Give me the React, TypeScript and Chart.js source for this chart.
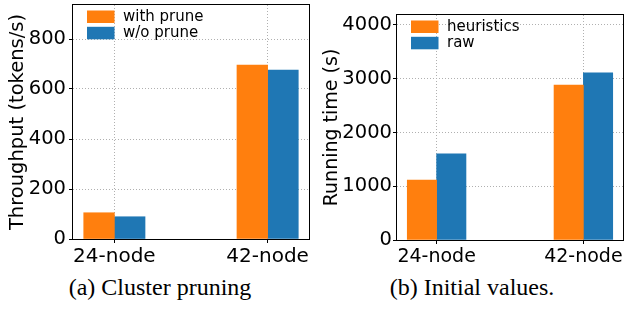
import React, { useEffect, useRef } from "react";
import { Chart, registerables } from "chart.js";

Chart.register(...registerables);

// ---- data ----
const categories = ["24-node", "42-node"];

const pruneLabels = ["with prune", "w/o prune"];
const withPrune = [105, 696];
const withoutPrune = [89, 676];
const throughputTicks = [0, 200, 400, 600, 800];
const throughputMax = 936;

const initLabels = ["heuristics", "raw"];
const heuristics = [1116, 2884];
const raw = [1601, 3110];
const runningTicks = [0, 1000, 2000, 3000, 4000];
const runningMax = 4186;

const ORANGE = "#ff7f0e";
const BLUE = "#1f77b4";
const FONT = "'DejaVu Sans', sans-serif";
const BAR_OFFSET = 0.1;

const framePlugin = {
  id: "frameBox",
  afterDraw(chart: any) {
    const { ctx, chartArea: a } = chart;
    ctx.save();
    ctx.strokeStyle = "#000";
    ctx.lineWidth = 1;
    ctx.strokeRect(a.left - 0.5, a.top - 0.5, a.right - a.left + 1, a.bottom - a.top + 1);
    ctx.restore();
  },
};

const legendPlugin = {
  id: "boxLegend",
  afterDraw(chart: any, _args: any, opts: any) {
    const { ctx, chartArea: a } = chart;
    const items = opts.items || [];
    ctx.save();
    ctx.font = `${opts.fontSize}px ${FONT}`;
    ctx.textBaseline = "middle";
    ctx.textAlign = "left";
    items.forEach((it: any, i: number) => {
      const y = a.top + opts.offY + i * opts.rowH;
      ctx.fillStyle = it.color;
      ctx.fillRect(a.left + opts.offX, y, opts.boxW, opts.boxH);
      ctx.fillStyle = "#000";
      ctx.fillText(it.label, a.left + opts.textX, y + opts.boxH / 2 + 0.5);
    });
    ctx.restore();
  },
};

type PanelProps = {
  labels: string[];
  series: number[][];
  yTicks: number[];
  yMax: number;
  yTitle: string;
  pad: { left: number; right: number; top: number; bottom: number };
  yWidth: number;
  xHeight: number;
  titlePad: number;
  tickFont: number;
  titleFont: number;
  xTickFont: number;
  yTickPad: number;
};

function Panel(p: PanelProps) {
  const ref = useRef<HTMLCanvasElement>(null);
  useEffect(() => {
    if (!ref.current) return;
    const colors = [ORANGE, BLUE];
    const offsets = [-BAR_OFFSET, BAR_OFFSET];
    const chart = new Chart(ref.current, {
      type: "bar",
      data: {
        datasets: p.series.map((vals, si) => ({
          label: p.labels[si],
          data: vals.map((v, i) => ({ x: i + offsets[si], y: v })),
          backgroundColor: colors[si],
          borderWidth: 0,
          grouped: false,
          barPercentage: 1,
          categoryPercentage: 1,
        })),
      },
      options: {
        animation: false,
        responsive: false,
        devicePixelRatio: 1,
        layout: { padding: p.pad },
        plugins: {
          legend: { display: false },
          tooltip: { enabled: false },
          boxLegend: {
            items: p.labels.map((l, i) => ({ label: l, color: colors[i] })),
            fontSize: 15,
            offX: 14,
            offY: 5.5,
            rowH: 16.3,
            boxW: 27.5,
            boxH: 12.5,
            textX: 50,
          },
        } as any,
        scales: {
          x: {
            type: "linear",
            min: -0.27,
            max: categories.length - 1 + 0.27,
            offset: false,
            z: 1,
            afterBuildTicks: (s: any) => {
              s.ticks = categories.map((_, i) => ({ value: i }));
            },
            afterFit: (s: any) => {
              s.height = p.xHeight;
              s.paddingLeft = 0;
              s.paddingRight = 0;
            },
            ticks: {
              autoSkip: false,
              maxRotation: 0,
              padding: 2,
              color: "#000",
              font: { family: FONT, size: p.xTickFont },
              callback: (v: any) => categories[Math.round(Number(v))],
            },
            grid: {
              offset: false,
              color: "#b0b0b0",
              lineWidth: 1,
              drawTicks: true,
              tickLength: 4,
              tickColor: "#000",
              tickBorderDash: [],
            } as any,
            border: { display: false, dash: [1, 2] },
          },
          y: {
            type: "linear",
            min: 0,
            max: p.yMax,
            z: 1,
            afterBuildTicks: (s: any) => {
              s.ticks = p.yTicks.map((v) => ({ value: v }));
            },
            afterFit: (s: any) => {
              s.width = p.yWidth;
              s.paddingTop = 0;
              s.paddingBottom = 0;
            },
            ticks: {
              padding: p.yTickPad,
              color: "#000",
              font: { family: FONT, size: p.tickFont },
              callback: (v: any) => String(v),
            },
            grid: {
              color: "#b0b0b0",
              lineWidth: 1,
              drawTicks: true,
              tickLength: 4,
              tickColor: "#000",
              tickBorderDash: [],
            } as any,
            border: { display: false, dash: [1, 2] },
            title: {
              display: true,
              text: p.yTitle,
              color: "#000",
              font: { family: FONT, size: p.titleFont },
              padding: { top: p.titlePad, bottom: 0 },
            },
          },
        },
      } as any,
      plugins: [framePlugin, legendPlugin],
    });
    return () => chart.destroy();
  }, []);
  return <canvas ref={ref} width={312} height={270} style={{ display: "block", width: 312, height: 270 }} />;
}

const captionStyle: React.CSSProperties = {
  position: "absolute",
  top: 276,
  fontFamily: "'Liberation Serif', 'Times New Roman', serif",
  fontSize: 24,
  lineHeight: "23px",
  color: "#000",
  whiteSpace: "nowrap",
  transform: "translateX(-50%)",
};

export default function App() {
  return (
    <div style={{ position: "fixed", left: 0, top: 0, width: 624, height: 312, background: "#fff", overflow: "hidden" }}>
      <div style={{ position: "absolute", left: 0, top: 0 }}>
        <Panel
          labels={pruneLabels}
          series={[withPrune, withoutPrune]}
          yTicks={throughputTicks}
          yMax={throughputMax}
          yTitle="Throughput (tokens/s)"
          pad={{ left: 0, right: 3, top: 5, bottom: 0 }}
          yWidth={73}
          xHeight={31}
          titlePad={6}
          tickFont={19.5}
          titleFont={19.5}
          xTickFont={20}
          yTickPad={3}
        />
      </div>
      <div style={{ position: "absolute", left: 312, top: 0 }}>
        <Panel
          labels={initLabels}
          series={[heuristics, raw]}
          yTicks={runningTicks}
          yMax={runningMax}
          yTitle="Running time (s)"
          pad={{ left: 0, right: 1, top: 15, bottom: 0 }}
          yWidth={85}
          xHeight={30}
          titlePad={8.5}
          tickFont={19.5}
          titleFont={19}
          xTickFont={19}
          yTickPad={1}
        />
      </div>
      <div style={{ ...captionStyle, left: 160 }}>(a) Cluster pruning</div>
      <div style={{ ...captionStyle, left: 472 }}>(b) Initial values.</div>
    </div>
  );
}
